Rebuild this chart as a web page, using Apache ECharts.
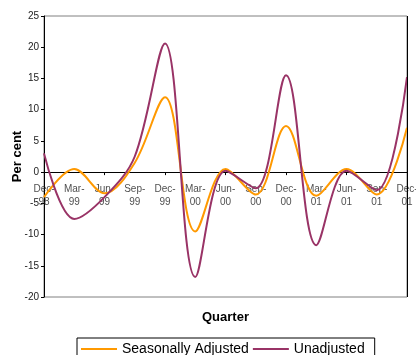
<!DOCTYPE html>
<html><head><meta charset="utf-8">
<script src="https://cdn.jsdelivr.net/npm/echarts@6/dist/echarts.min.js"></script>
<style>html,body{margin:0;padding:0;background:#fff;}#c{width:416px;height:355px;}</style>
</head><body><div id="c"></div>
<script>
var categories = ['Dec-\n98','Mar-\n99','Jun-\n99','Sep-\n99','Dec-\n99','Mar-\n00','Jun-\n00','Sep-\n00','Dec-\n00','Mar-\n01','Jun-\n01','Sep-\n01','Dec-\n01'];
var seasonallyAdjusted = [-4.0, 0.5, -3.4, 1.5, 12.0, -9.5, 0.5, -3.6, 7.4, -3.8, 0.5, -3.6, 7.1];
var unadjusted = [3.0, -7.5, -4.0, 2.5, 20.6, -16.8, 0.2, -2.6, 15.5, -11.7, 0.2, -2.9, 15.2];
var yTicks = {min: -20, max: 25, interval: 5};

var font = 'Liberation Sans, Arial, sans-serif';
var labelPoints = categories.map(function (c, i) { return [i, 0]; });
var chart = echarts.init(document.getElementById('c'));
chart.setOption({
  animation: false,
  grid: {left: 44, right: 9, top: 16, bottom: 58, show: true, borderColor: '#808080', borderWidth: 1,
         containLabel: false, outerBoundsMode: 'none'},
  graphic: [{
    type: 'text', left: 202, top: 311,
    style: {text: 'Quarter', font: 'bold 13px Liberation Sans, Arial, sans-serif', fill: '#000'}
  }],
  legend: {
    top: 338, left: 77, padding: [4, 10, 6, 4], itemGap: 4,
    borderColor: '#000', borderWidth: 1, itemWidth: 36, itemHeight: 14,
    icon: 'path://M0,6 L36,6 L36,8 L0,8 Z',
    textStyle: {fontFamily: font, fontSize: 14, color: '#000'},
    data: ['Seasonally Adjusted', 'Unadjusted']
  },
  xAxis: {
    type: 'category', data: categories, boundaryGap: false,
    axisLine: {onZero: true, lineStyle: {color: '#000', width: 1}},
    axisTick: {show: true, length: 3, inside: false, alignWithLabel: true, lineStyle: {color: '#000'}},
    axisLabel: {show: false},
    splitLine: {show: false}
  },
  yAxis: {
    type: 'value', min: yTicks.min, max: yTicks.max, interval: yTicks.interval,
    name: 'Per cent', nameLocation: 'middle', nameGap: 20, nameMoveOverlap: false,
    nameTextStyle: {fontFamily: font, fontSize: 13, fontWeight: 'bold', color: '#000'},
    axisLine: {show: true, lineStyle: {color: '#000'}},
    axisTick: {show: true, length: 3, lineStyle: {color: '#000'}},
    axisLabel: {fontFamily: font, fontSize: 10, color: '#222', margin: 5},
    splitLine: {show: false}
  },
  series: [{
    name: 'axisLabels', type: 'scatter', data: labelPoints, symbolSize: 0, silent: true, z: 1,
    label: {
      show: true, position: 'bottom', distance: 11,
      formatter: function (p) { return categories[p.dataIndex]; },
      fontFamily: font, fontSize: 10, color: '#222', lineHeight: 13, align: 'center'
    }
  }, {
    name: 'Seasonally Adjusted', type: 'line', data: seasonallyAdjusted, smooth: 0.35, z: 3,
    showSymbol: false, lineStyle: {color: '#FF9900', width: 2}, itemStyle: {color: '#FF9900'},
    markLine: {
      silent: true, symbol: 'none', label: {show: false},
      lineStyle: {color: '#000', width: 1, type: 'solid'},
      data: [[{coord: [categories.length - 1, yTicks.min]}, {coord: [categories.length - 1, yTicks.max]}]]
    }
  }, {
    name: 'Unadjusted', type: 'line', data: unadjusted, smooth: 0.35, z: 3,
    showSymbol: false, lineStyle: {color: '#993366', width: 2}, itemStyle: {color: '#993366'}
  }]
});
</script></body></html>
